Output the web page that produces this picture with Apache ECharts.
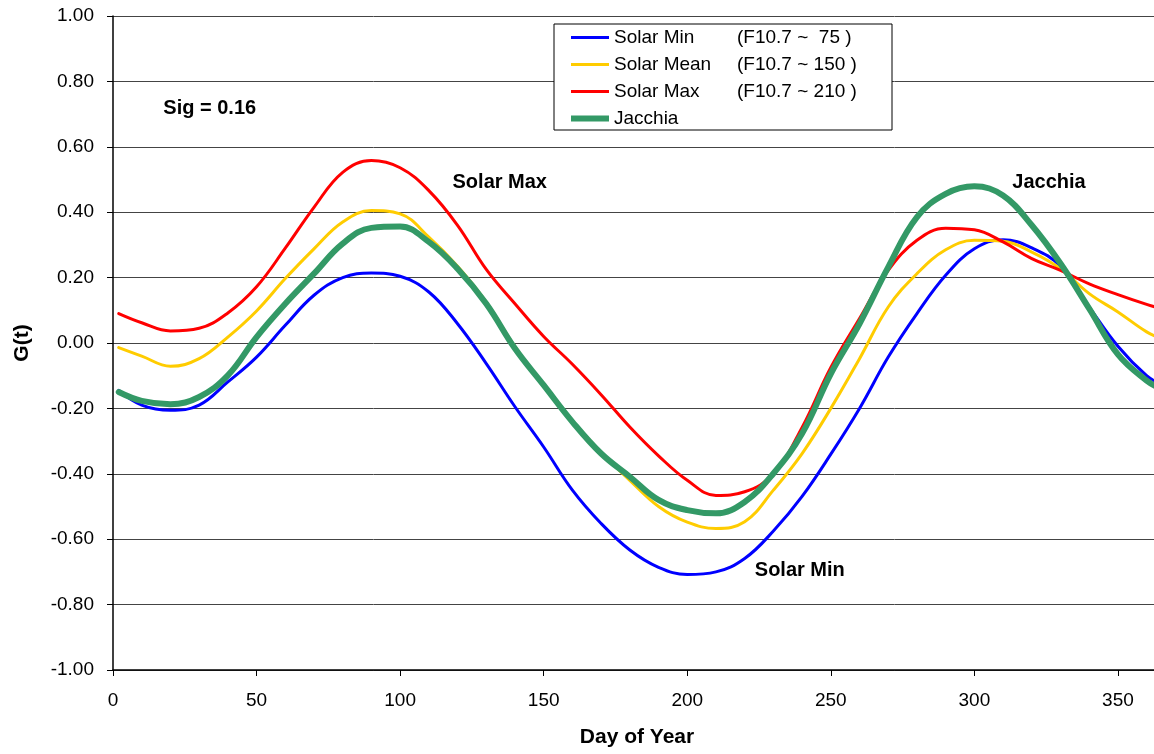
<!DOCTYPE html>
<html>
<head>
<meta charset="utf-8">
<script src="https://cdn.jsdelivr.net/npm/echarts@6/dist/echarts.min.js"></script>
<style>
  html, body { margin: 0; padding: 0; background: #fff; }
  #chart { width: 1154px; height: 754px; }
</style>
</head>
<body>
<div id="chart"></div>
<script>
// Day of year for every sample
const days = [2, 10, 20, 30, 40, 50, 60, 70, 80, 90, 100, 110, 120, 130, 140, 150, 160, 170, 180,
  190, 200, 210, 220, 230, 240, 250, 260, 270, 280, 290, 300, 310, 320, 330, 340, 350, 360, 365];

// G(t) for each solar activity level
const solarMin = [-0.145, -0.190, -0.206, -0.190, -0.119, -0.043, 0.054, 0.146, 0.200, 0.214, 0.204, 0.156,
  0.059, -0.063, -0.195, -0.318, -0.450, -0.552, -0.633, -0.686, -0.708, -0.700, -0.659, -0.575, -0.469,
  -0.340, -0.200, -0.043, 0.090, 0.207, 0.288, 0.316, 0.291, 0.235, 0.110, -0.010, -0.100, -0.125];
const solarMean = [-0.014, -0.040, -0.071, -0.048, 0.018, 0.098, 0.197, 0.288, 0.370, 0.405, 0.395, 0.324,
  0.235, 0.125, -0.012, -0.127, -0.238, -0.335, -0.420, -0.500, -0.548, -0.567, -0.547, -0.450, -0.338,
  -0.200, -0.048, 0.110, 0.212, 0.285, 0.314, 0.311, 0.278, 0.227, 0.151, 0.095, 0.034, 0.015];
const solarMax = [0.090, 0.062, 0.037, 0.045, 0.092, 0.172, 0.290, 0.415, 0.522, 0.558, 0.536, 0.466,
  0.360, 0.225, 0.120, 0.020, -0.065, -0.158, -0.257, -0.345, -0.420, -0.466, -0.455, -0.400, -0.258,
  -0.075, 0.075, 0.222, 0.314, 0.351, 0.346, 0.309, 0.258, 0.222, 0.181, 0.148, 0.118, 0.105];
const jacchia = [-0.150, -0.177, -0.187, -0.165, -0.099, 0.018, 0.120, 0.212, 0.304, 0.352, 0.356, 0.309,
  0.227, 0.120, -0.017, -0.129, -0.241, -0.338, -0.409, -0.480, -0.511, -0.521, -0.486, -0.399, -0.277,
  -0.094, 0.059, 0.232, 0.385, 0.456, 0.479, 0.451, 0.360, 0.243, 0.105, -0.035, -0.115, -0.140];

const seriesNames = ['Solar Min', 'Solar Mean', 'Solar Max', 'Jacchia'];
const fluxNotes = ['(F10.7 ~  75 )', '(F10.7 ~ 150 )', '(F10.7 ~ 210 )', ''];
const seriesValues = [solarMin, solarMean, solarMax, jacchia];
const seriesColors = ['#0000FF', '#FFCC00', '#FF0000', '#339966'];
const seriesWidths = [3, 3, 3, 6];

// Text notes placed in data coordinates (day, G)
const noteTexts = ['Sig = 0.16', 'Solar Max', 'Jacchia', 'Solar Min'];
const noteDays = [33.7, 134.7, 326, 239.2];
const noteValues = [0.717, 0.491, 0.491, -0.695];

const FONT = '"Liberation Sans", Arial, Helvetica, sans-serif';

const chart = echarts.init(document.getElementById('chart'), null, { renderer: 'canvas' });

const lineSeries = seriesNames.map((name, i) => ({
  name: name,
  type: 'line',
  data: days.map((d, k) => [d, seriesValues[i][k]]),
  smooth: 0.4,
  symbol: 'none',
  showSymbol: false,
  lineStyle: { color: seriesColors[i], width: seriesWidths[i], cap: 'round' },
  itemStyle: { color: seriesColors[i] },
  emphasis: { disabled: true },
  z: 2 + i
}));

const noteSeries = {
  name: 'notes',
  type: 'scatter',
  symbolSize: 0,
  silent: true,
  z: 10,
  itemStyle: { opacity: 1 },
  data: noteTexts.map((t, i) => ({ name: t, value: [noteDays[i], noteValues[i]] })),
  label: {
    show: true,
    position: 'inside',
    formatter: '{b}',
    fontFamily: FONT,
    fontWeight: 'bold',
    fontSize: 20,
    color: '#000',
    opacity: 1
  }
};

// Legend swatches: a flat bar as thick as the series line
const legendData = seriesNames.map((name, i) => ({
  name: name,
  icon: 'path://M0,0H38V' + seriesWidths[i] + 'H0Z',
  itemStyle: { color: seriesColors[i], borderWidth: 0 }
}));

chart.setOption({
  animation: false,
  backgroundColor: '#fff',
  grid: { left: 113, top: 16, right: -7, bottom: 84, containLabel: false, outerBoundsMode: 'none' },
  legend: {
    orient: 'vertical',
    left: 554,
    top: 24,
    data: legendData,
    backgroundColor: '#fff',
    borderColor: '#000',
    borderWidth: 1,
    padding: [4, 17, 2, 17],
    itemGap: 8,
    itemWidth: 38,
    itemHeight: 14,
    selectedMode: false,
    formatter: name => {
      const note = fluxNotes[seriesNames.indexOf(name)];
      return note ? '{a|' + name + '}{b|' + note + '}' : '{a|' + name + '}';
    },
    textStyle: {
      fontFamily: FONT,
      fontSize: 19,
      color: '#000',
      rich: {
        a: { fontFamily: FONT, fontSize: 19, color: '#000', width: 123, lineHeight: 20 },
        b: { fontFamily: FONT, fontSize: 19, color: '#000', width: 138, lineHeight: 20 }
      }
    }
  },
  xAxis: {
    type: 'value',
    min: 0,
    max: 365,
    interval: 50,
    name: 'Day of Year',
    nameLocation: 'middle',
    nameGap: 57,
    nameTextStyle: { fontFamily: FONT, fontWeight: 'bold', fontSize: 21, color: '#000' },
    axisLine: { show: true, onZero: false, lineStyle: { color: '#000', width: 1.5 } },
    axisTick: { show: true, length: 6, lineStyle: { color: '#000', width: 1 } },
    axisLabel: { fontFamily: FONT, fontSize: 19, color: '#000', margin: 21, showMaxLabel: false },
    splitLine: { show: false }
  },
  yAxis: {
    type: 'value',
    min: -1,
    max: 1,
    interval: 0.2,
    name: 'G(t)',
    nameLocation: 'middle',
    nameGap: 80,
    nameTextStyle: { fontFamily: FONT, fontWeight: 'bold', fontSize: 21, color: '#000' },
    axisLine: { show: true, lineStyle: { color: '#000', width: 1.5 } },
    axisTick: { show: true, length: 6, lineStyle: { color: '#000', width: 1 } },
    axisLabel: {
      fontFamily: FONT, fontSize: 19, color: '#000', margin: 19,
      formatter: v => v.toFixed(2)
    },
    splitLine: { show: true, lineStyle: { color: '#444', width: 1 } }
  },
  series: [...lineSeries, noteSeries]
});
</script>
</body>
</html>
